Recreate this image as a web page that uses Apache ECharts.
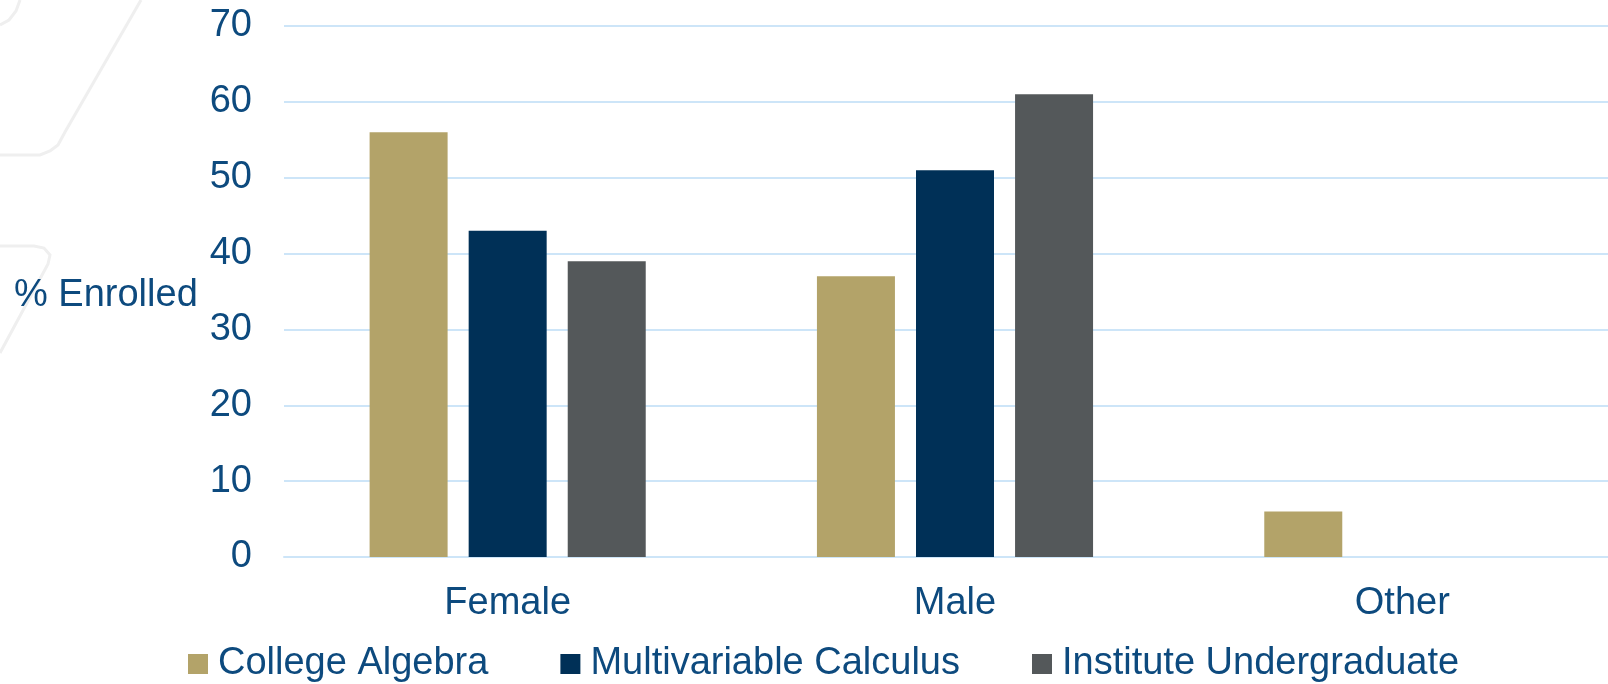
<!DOCTYPE html>
<html>
<head>
<meta charset="utf-8">
<script src="https://cdn.jsdelivr.net/npm/echarts@6/dist/echarts.min.js"></script>
<style>
  html, body { margin: 0; padding: 0; background: #ffffff; overflow: hidden; }
  #chart { width: 1640px; height: 684px; }
</style>
</head>
<body>
<div id="chart"></div>
<script>
const categories = ['Female', 'Male', 'Other'];
const seriesNames = ['College Algebra', 'Multivariable Calculus', 'Institute Undergraduate'];
const collegeAlgebra = [56, 37, 6];
const multivariableCalculus = [43, 51, 0];
const instituteUndergraduate = [39, 61, 0];
const yTicks = { min: 0, max: 70, interval: 10 };
const yAxisTitle = '% Enrolled';

const textColor = '#0d4a7e';
const colors = ['#b3a369', '#003057', '#54585a'];
const font = 'Liberation Sans, Arial, sans-serif';

const decoStyle = { stroke: '#efefef', lineWidth: 3, fill: 'none' };

const chart = echarts.init(document.getElementById('chart'));
chart.setOption({
  backgroundColor: '#ffffff',
  animation: false,
  graphic: [
    { type: 'polyline', silent: true, z: -10,
      shape: { points: [[141, 0], [65, 132], [58, 145], [50, 151], [40, 155], [30, 155], [0, 155]] },
      style: decoStyle },
    { type: 'polyline', silent: true, z: -10,
      shape: { points: [[20, 0], [16, 11], [9, 20], [0, 25]] },
      style: decoStyle },
    { type: 'polyline', silent: true, z: -10,
      shape: { points: [[0, 246], [34, 246], [44, 248], [50, 255], [48, 264], [0, 353]] },
      style: decoStyle },
    { type: 'text', left: 14, top: 277,
      style: { text: yAxisTitle, fill: textColor, font: '38px ' + font } }
  ],
  grid: { left: 284, top: 26, width: 1342, height: 531, containLabel: false },
  legend: {
    left: 188, top: 645, padding: 0,
    icon: 'rect', itemWidth: 20, itemHeight: 20, itemGap: 72,
    textStyle: { color: textColor, fontSize: 38, fontFamily: font, padding: [0, 0, 0, 5] },
    data: seriesNames
  },
  xAxis: {
    type: 'category',
    data: categories,
    axisLine: { show: true, lineStyle: { color: '#cde5f8', width: 2 } },
    axisTick: { show: false },
    axisLabel: { color: textColor, fontSize: 38, fontFamily: font, margin: 28 }
  },
  yAxis: {
    type: 'value',
    min: yTicks.min, max: yTicks.max, interval: yTicks.interval,
    axisLine: { show: false },
    axisTick: { show: false },
    axisLabel: { color: textColor, fontSize: 38, fontFamily: font, margin: 32 },
    splitLine: { show: true, lineStyle: { color: '#cde5f8', width: 2 } }
  },
  series: [
    { name: seriesNames[0], type: 'bar', data: collegeAlgebra, barWidth: 78, barGap: '27%', itemStyle: { color: colors[0] } },
    { name: seriesNames[1], type: 'bar', data: multivariableCalculus, barWidth: 78, barGap: '27%', itemStyle: { color: colors[1] } },
    { name: seriesNames[2], type: 'bar', data: instituteUndergraduate, barWidth: 78, barGap: '27%', itemStyle: { color: colors[2] } }
  ]
});
</script>
</body>
</html>
